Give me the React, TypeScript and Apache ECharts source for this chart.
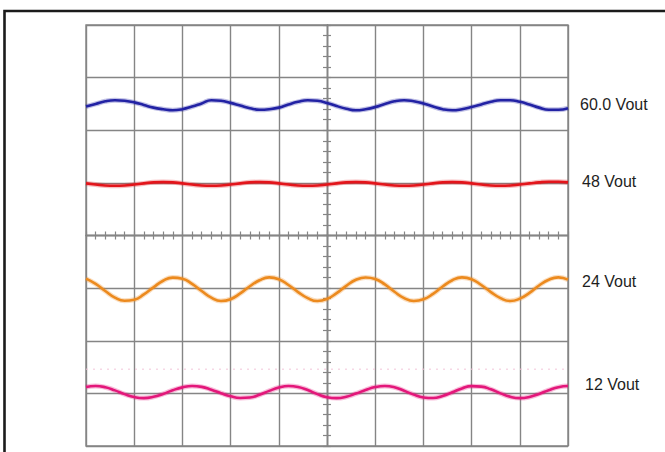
import React, { useEffect, useRef } from "react";
import * as echarts from "echarts";

// horizontal sample positions (divisions from screen centre)
const sampleX = [
  -5.0, -4.8, -4.6, -4.4, -4.2, -4.0, -3.8, -3.6, -3.4, -3.2,
  -3.0, -2.8, -2.6, -2.4, -2.2, -2.0, -1.8, -1.6, -1.4, -1.2,
  -1.0, -0.8, -0.6, -0.4, -0.2, 0.0, 0.2, 0.4, 0.6, 0.8,
  1.0, 1.2, 1.4, 1.6, 1.8, 2.0, 2.2, 2.4, 2.6, 2.8,
  3.0, 3.2, 3.4, 3.6, 3.8, 4.0, 4.2, 4.4, 4.6, 4.8, 5.0,
];

// trace levels (divisions from screen centre)
const blue60 = [
  2.45, 2.5, 2.55, 2.57, 2.56, 2.53, 2.48, 2.43, 2.4, 2.38,
  2.4, 2.45, 2.51, 2.57, 2.56, 2.52, 2.47, 2.42, 2.39, 2.4,
  2.43, 2.49, 2.54, 2.57, 2.56, 2.52, 2.46, 2.41, 2.38, 2.4,
  2.44, 2.5, 2.55, 2.57, 2.55, 2.51, 2.45, 2.4, 2.38, 2.4,
  2.44, 2.49, 2.54, 2.57, 2.57, 2.54, 2.49, 2.43, 2.39, 2.39, 2.42,
];
const red48 = [
  0.99, 0.97, 0.95, 0.945, 0.95, 0.97, 0.99, 1.01, 1.015, 1.01,
  0.99, 0.97, 0.95, 0.945, 0.95, 0.97, 0.99, 1.01, 1.015, 1.01,
  0.99, 0.97, 0.95, 0.945, 0.95, 0.97, 0.99, 1.01, 1.015, 1.01,
  0.99, 0.97, 0.95, 0.945, 0.95, 0.97, 0.99, 1.01, 1.015, 1.01,
  0.99, 0.97, 0.95, 0.945, 0.95, 0.97, 0.99, 1.01, 1.02, 1.02, 1.01,
];
const orange24 = [
  -0.82, -0.92, -1.055, -1.18, -1.24, -1.22, -1.12, -0.985, -0.86, -0.8,
  -0.82, -0.92, -1.055, -1.18, -1.245, -1.21, -1.1, -0.964, -0.85, -0.795,
  -0.83, -0.94, -1.076, -1.19, -1.245, -1.206, -1.096, -0.957, -0.842, -0.797,
  -0.826, -0.93, -1.07, -1.19, -1.244, -1.213, -1.11, -0.97, -0.85, -0.796,
  -0.83, -0.94, -1.076, -1.19, -1.245, -1.2, -1.09, -0.95, -0.84, -0.795, -0.84,
];
const pink12 = [
  -2.88, -2.86, -2.884, -2.943, -3.014, -3.07, -3.09, -3.066, -3.01, -2.94,
  -2.886, -2.86, -2.876, -2.93, -2.996, -3.056, -3.088, -3.079, -3.027, -2.953,
  -2.889, -2.86, -2.878, -2.936, -3.014, -3.072, -3.09, -3.064, -3.004, -2.936,
  -2.88, -2.86, -2.884, -2.95, -3.024, -3.077, -3.088, -3.048, -2.98, -2.906,
  -2.863, -2.871, -2.923, -3.0, -3.064, -3.09, -3.068, -3.01, -2.94, -2.882, -2.86,
];
const pinkRefLevel = -2.54;

const traceNames = ["60.0 Vout", "48 Vout", "24 Vout", "12 Vout"];
const traceColors = ["#2222a4", "#e3151b", "#ec8a1e", "#e3177a"];
const traceValues = [blue60, red48, orange24, pink12];

export default function App() {
  const ref = useRef<HTMLDivElement>(null);
  useEffect(() => {
    const chart = echarts.init(ref.current!, null, { renderer: "svg" });
    const gridColor = "#858585";
    const pair = (ys: number[]) => sampleX.map((x, i) => [x, ys[i]]);

    const axisBase = (min: number, max: number, pos: string, split: boolean) => ({
      type: "value",
      min,
      max,
      interval: 1,
      position: pos,
      axisLine: { show: true, onZero: true, onZeroAxisIndex: 0, lineStyle: { color: gridColor, width: 1.4 } },
      axisTick: { show: true, length: 4, lineStyle: { color: gridColor, width: 1.2 } },
      minorTick: { show: true, splitNumber: 5, length: 4, lineStyle: { color: gridColor, width: 1.2 } },
      axisLabel: { show: false },
      splitLine: { show: split, lineStyle: { color: gridColor, width: 1.4 } },
    });

    const labelY = [104, 181, 281, 384];
    const labelX = [580, 582, 582, 585];

    chart.setOption({
      animation: false,
      backgroundColor: "#ffffff",
      grid: {
        left: 86,
        top: 25,
        width: 482,
        height: 421,
        show: true,
        borderColor: gridColor,
        borderWidth: 1.4,
      },
      xAxis: [axisBase(-5, 5, "bottom", true), axisBase(-5, 5, "top", false)],
      yAxis: [axisBase(-4, 4, "left", true), axisBase(-4, 4, "right", false)],
      series: [
        {
          type: "line",
          name: "ref",
          data: [
            [-5, pinkRefLevel],
            [5, pinkRefLevel],
          ],
          showSymbol: false,
          lineStyle: { color: "#f2c4d8", width: 1, type: [2, 5] },
          silent: true,
        },
        ...traceValues.map((vals, i) => ({
          type: "line",
          name: traceNames[i] + " halo",
          data: pair(vals),
          smooth: true,
          showSymbol: false,
          lineStyle: { color: traceColors[i], width: 5, opacity: 0.28 },
          silent: true,
        })),
        ...traceValues.map((vals, i) => ({
          type: "line",
          name: traceNames[i],
          data: pair(vals),
          smooth: true,
          showSymbol: false,
          lineStyle: { color: traceColors[i], width: 2.6 },
          silent: true,
        })),
      ],
      graphic: [
        {
          type: "polyline",
          shape: { points: [[4.5, 452], [4.5, 11], [665, 11]] },
          style: { stroke: "#1b1b1b", lineWidth: 2.6, fill: null },
        },
        ...traceNames.map((t, i) => ({
          type: "text",
          x: labelX[i],
          y: labelY[i],
          style: {
            text: t,
            fill: "#1e1e1e",
            fontSize: 16,
            fontFamily: '"Liberation Sans", Arial, sans-serif',
            verticalAlign: "middle",
            align: "left",
          },
        })),
      ],
    });
    return () => chart.dispose();
  }, []);
  return (
    <div
      ref={ref}
      style={{ position: "absolute", left: 0, top: 0, width: 665, height: 452, background: "#fff" }}
    />
  );
}
